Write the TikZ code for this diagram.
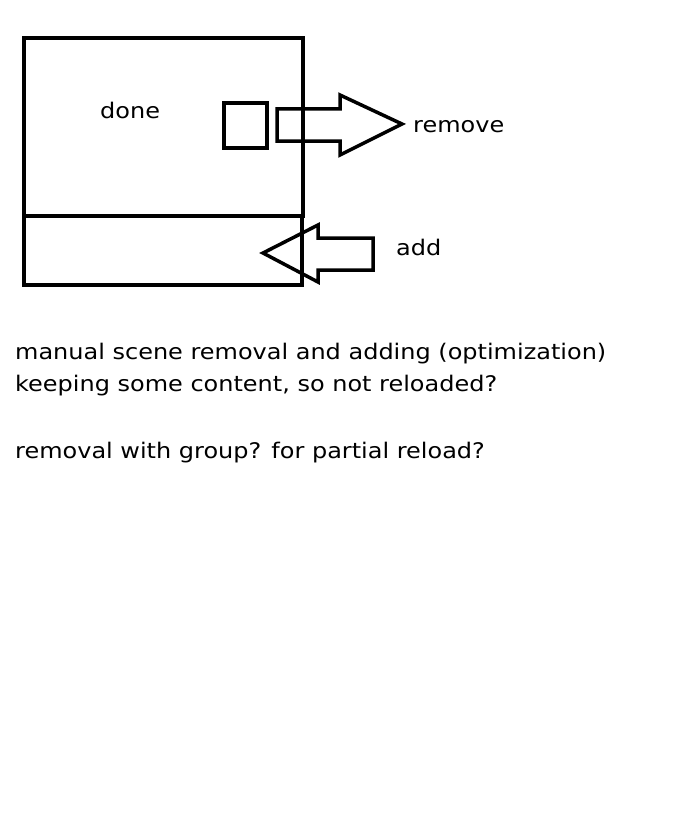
\documentclass[tikz,border=0pt]{standalone}
\usepackage{fontspec}
\newfontfamily\pf[FakeStretch=1.115]{DejaVu Sans}
\begin{document}
\begin{tikzpicture}[x=1pt,y=-1pt,
  box/.style={draw=black,line width=3.5pt},
  fatarrow/.style={draw=black,line width=3.5pt,line join=miter},
  lbl/.style={anchor=base west,inner sep=0pt,font=\pf\fontsize{21.5}{24}\selectfont}]
\useasboundingbox[fill=white] (0,0) rectangle (693,824);
% boxes
\draw[box] (24,38) rectangle (303,216);
\draw[box] (24,216) rectangle (302,285);
\draw[box] (224,103) rectangle (267,148);
% remove arrow
\draw[fatarrow] (277,109) -- (340,109) -- (340,95) -- (402,124) -- (340,155) -- (340,141) -- (277,141) -- cycle;
% add arrow
\draw[fatarrow] (373,238) -- (318,238) -- (318,225) -- (263,253) -- (318,282) -- (318,270) -- (373,270) -- cycle;
% labels
\node[lbl] (done) at (100,119) {done};
\node[lbl] (remove) at (413,132) {remove};
\node[lbl] (add) at (396,255) {add};
\node[lbl] (l1) at (15,359) {manual scene removal and adding (optimization)};
\node[lbl] (l2) at (15,391) {keeping some content, so not reloaded?};
\node[lbl] (l3) at (15,458) {removal with group? for partial reload?};
\end{tikzpicture}
\end{document}
